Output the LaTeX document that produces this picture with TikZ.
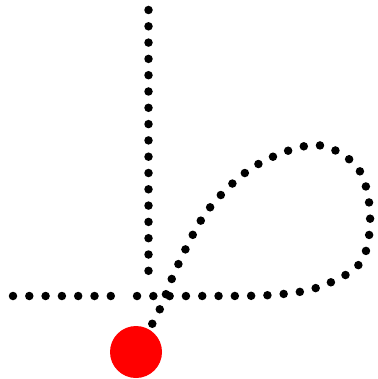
\documentclass[tikz,border=0pt]{standalone}
\usepackage{tikz}

\begin{document}
\begin{tikzpicture}[x=1pt, y=-1pt]
\tikzset{
  dots/.style={line width=8.5pt, line cap=round, dash pattern=on 0pt off 16.3pt},
  startdot/.style={circle, fill=red, minimum size=52pt, inner sep=0pt},
}
\useasboundingbox (0,0) rectangle (377,379);
\coordinate (top) at (148.5,10);
\coordinate (vend) at (148.5,272);
\coordinate (left) at (13,296);
\coordinate (hend) at (113,296);
\coordinate (origin) at (136,352);
\draw[dots] (top) -- (vend);
\draw[dots] (left) -- (hend);
\draw[dots] plot[smooth, tension=0.55] coordinates {(origin) (159,311) (177,267) (208,210) (255,166) (315,145) (357,167) (370,213) (361,262) (319,287) (271,295) (200,296) (124,296)};
\node[startdot] (start) at (origin) {};
\end{tikzpicture}
\end{document}
